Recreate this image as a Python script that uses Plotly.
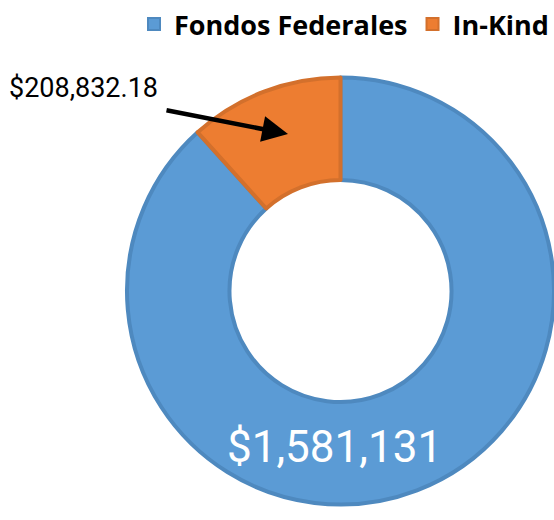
import plotly.graph_objects as go

labels = ["Fondos Federales", "In-Kind"]
values = [1581131, 208832.18]
fill_colors = ["#5B9BD5", "#ED7D31"]
line_colors = ["#4E89BF", "#D3702C"]

W, H = 554, 520
cx, cy, r = 341, 291, 214


def px(x):
    return x / W


def py(y):
    return 1 - y / H


fig = go.Figure(go.Pie(
    labels=labels,
    values=values,
    hole=0.52,
    sort=False,
    direction="clockwise",
    rotation=0,
    textinfo="none",
    marker=dict(colors=fill_colors, line=dict(color=line_colors, width=4)),
    domain=dict(x=[(cx - r) / W, min(1.0, (cx + r) / W)],
                y=[(H - cy - r) / H, (H - cy + r) / H]),
    showlegend=True,
))

fig.add_annotation(
    text="${:,.0f}".format(values[0]),
    x=px(334), y=py(447), xref="paper", yref="paper",
    xanchor="center", yanchor="middle",
    showarrow=False,
    font=dict(family="Roboto", size=44, color="white"),
)
fig.add_annotation(
    text="${:,.2f}".format(values[1]),
    x=px(83), y=py(88), xref="paper", yref="paper",
    xanchor="center", yanchor="middle",
    showarrow=False,
    font=dict(family="Roboto", size=27, color="black"),
)
fig.add_annotation(
    text="",
    x=px(288), y=py(134), xref="paper", yref="paper",
    ax=-123, ay=-24,
    showarrow=True, arrowhead=2, arrowsize=1.15, arrowwidth=4.5, arrowcolor="black",
    standoff=0,
)

fig.update_layout(
    width=W, height=H,
    margin=dict(l=0, r=0, t=0, b=0, autoexpand=False),
    paper_bgcolor="white",
    plot_bgcolor="white",
    legend=dict(
        orientation="h", x=1.0, xanchor="right", y=1.0, yanchor="top",
        font=dict(family="Open Sans", size=27, color="black", weight="bold"),
        itemsizing="constant", traceorder="normal",
        tracegroupgap=0, itemwidth=30,
    ),
)

fig.write_html(
    "out.html",
    config={"displayModeBar": False},
    post_script="document.body.style.margin='0';document.body.style.overflow='hidden';",
)
